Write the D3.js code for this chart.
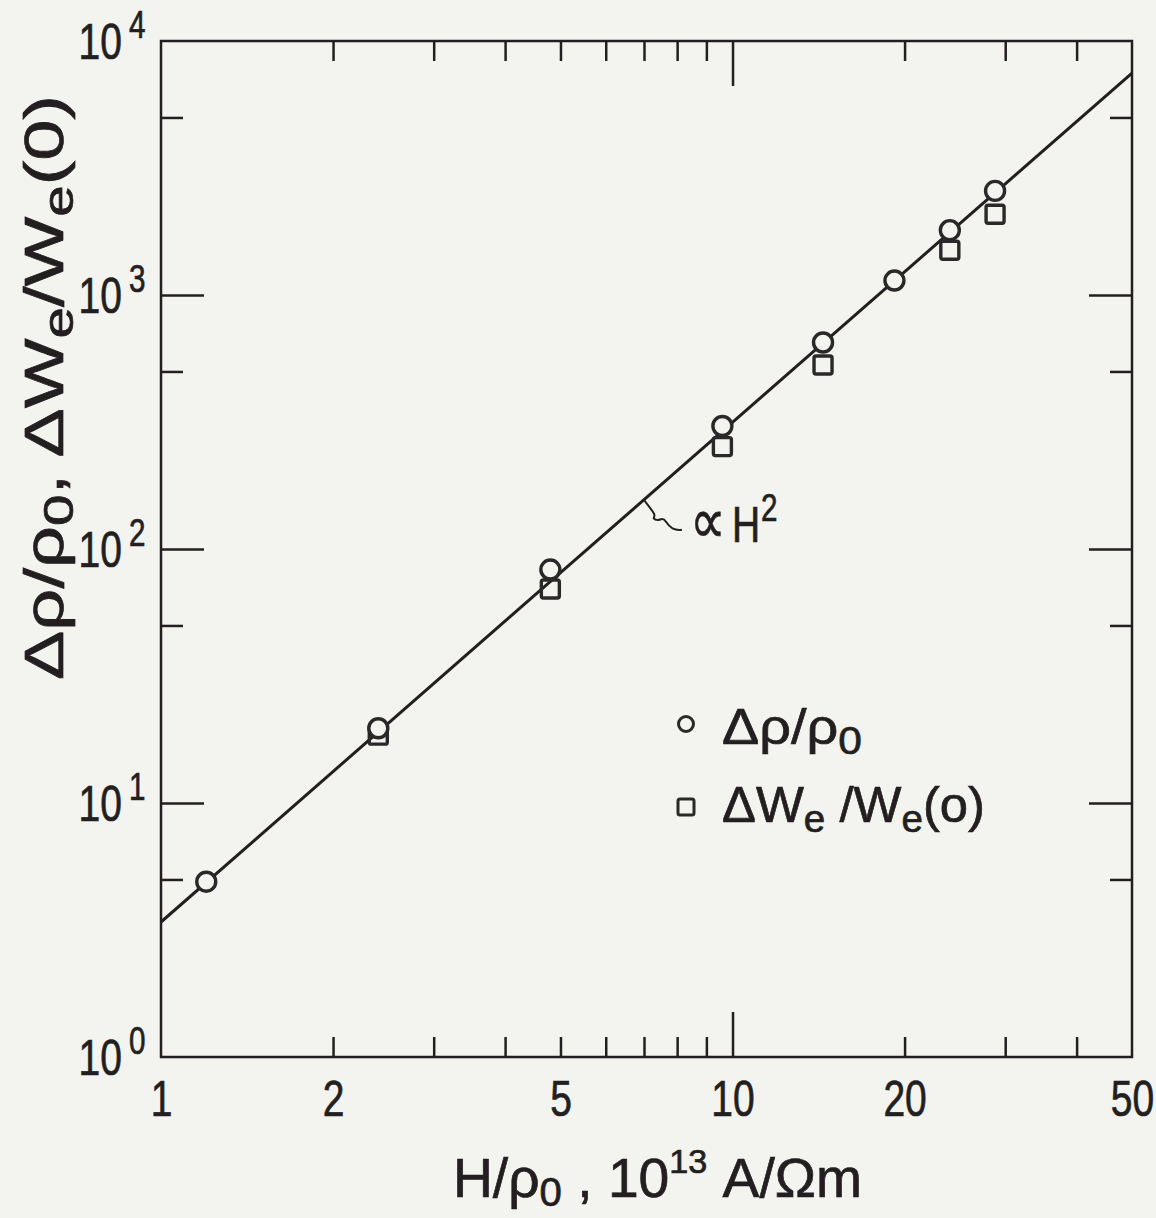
<!DOCTYPE html>
<html><head><meta charset="utf-8">
<script src="https://cdn.jsdelivr.net/npm/d3@7"></script>
<style>
body{margin:0;background:#f3f3f0;}
svg{display:block;}
text{font-family:"Liberation Sans","DejaVu Sans",sans-serif;fill:#231f20;stroke:#231f20;stroke-width:0.7px;}
</style></head><body>
<svg id="c" width="1156" height="1218"></svg>
<script>
// ---- data ----
const fieldH   = [1.2, 2.4, 4.8, 9.6, 14.4, 19.2, 24, 28.8];
const rhoRatio = [4.9, 19.7, 83, 305, 650, 1140, 1800, 2570];
const fieldW   = [2.4, 4.8, 9.6, 14.4, 24, 28.8];
const wRatio   = [18.5, 69.6, 253, 530, 1500, 2080];
const fitLineX = [1, 50];
const fitLineY = [3.4, 7480];
const xTickLabels = [1, 2, 5, 10, 20, 50];
const xMinorTicks = [2, 3, 4, 5, 6, 7, 8, 9, 20, 30, 40];
const xMajorTicks = [10];
const yLabelExp   = [0, 1, 2, 3, 4];
const yMajorTicks = [10, 100, 1000];
const yMinorTicks = [5, 50, 500, 5000];
const annotX = 7;

const ink = "#231f20";
const SX = 0.78; // horizontal condensing for the narrow typeface
const svg = d3.select("#c");
svg.append("rect").attr("width",1156).attr("height",1218).attr("fill","#f3f3f0");

const x = d3.scaleLog().domain([1,50]).range([161,1132]);
const y = d3.scaleLog().domain([1,1e4]).range([1057,41]);

function styleAxis(g){
  g.select(".domain").remove();
  g.selectAll(".tick line").attr("stroke",ink).attr("stroke-width",2.5);
  g.selectAll(".tick text").attr("fill",ink);
}
function addAxis(axis, tx, ty){
  const g = svg.append("g").attr("transform",`translate(${tx},${ty})`).call(axis);
  styleAxis(g);
  return g;
}
function ctext(parent, px, py, size, anchor){
  return parent.append("g").attr("transform",`translate(${px},${py}) scale(${SX},1)`)
    .append("text").attr("font-size",size).attr("text-anchor",anchor||"start");
}
// bottom ticks
addAxis(d3.axisBottom(x).tickValues(xMinorTicks).tickSize(-20).tickFormat(""),0,1057);
addAxis(d3.axisBottom(x).tickValues(xMajorTicks).tickSize(-45).tickFormat(""),0,1057);
// top ticks
addAxis(d3.axisTop(x).tickValues(xMinorTicks).tickSize(-20).tickFormat(""),0,41);
addAxis(d3.axisTop(x).tickValues(xMajorTicks).tickSize(-45).tickFormat(""),0,41);
// left / right ticks
addAxis(d3.axisLeft(y).tickValues(yMajorTicks).tickSize(-43).tickFormat(""),161,0);
addAxis(d3.axisLeft(y).tickValues(yMinorTicks).tickSize(-22).tickFormat(""),161,0);
addAxis(d3.axisRight(y).tickValues(yMajorTicks).tickSize(-43).tickFormat(""),1132,0);
addAxis(d3.axisRight(y).tickValues(yMinorTicks).tickSize(-22).tickFormat(""),1132,0);
// x labels
const xl = addAxis(d3.axisBottom(x).tickValues(xTickLabels).tickSize(0).tickPadding(24).tickFormat(d3.format("d")),0,1057);
xl.attr("font-family",null).attr("font-size",null);
xl.selectAll(".tick text").attr("font-size",50).attr("transform",`scale(${SX},1)`);

// y labels 10^n
const yl = svg.append("g");
yLabelExp.forEach(e=>{
  const py = y(Math.pow(10,e));
  ctext(yl,122,py+18,50,"end").text("10");
  ctext(yl,129,py-3,38,"start").text(String(e));
});

// frame
svg.append("rect").attr("x",x(1)).attr("y",y(1e4)).attr("width",x(50)-x(1)).attr("height",y(1)-y(1e4))
  .attr("fill","none").attr("stroke",ink).attr("stroke-width",2.5);

// fit line
const linePts = fitLineX.map((v,i)=>[v,fitLineY[i]]);
svg.append("path").attr("d",d3.line().x(d=>x(d[0])).y(d=>y(d[1]))(linePts))
  .attr("fill","none").attr("stroke",ink).attr("stroke-width",3);

// squares
svg.append("g").selectAll("rect").data(fieldW.map((v,i)=>[v,wRatio[i]])).join("rect")
  .attr("x",d=>x(d[0])-9).attr("y",d=>y(d[1])-9).attr("width",18).attr("height",18).attr("rx",2)
  .attr("fill","none").attr("stroke","#2b2829").attr("stroke-width",3.4);
// circles
svg.append("g").selectAll("circle").data(fieldH.map((v,i)=>[v,rhoRatio[i]])).join("circle")
  .attr("cx",d=>x(d[0])).attr("cy",d=>y(d[1])).attr("r",9.5)
  .attr("fill","#f3f3f0").attr("stroke","#2b2829").attr("stroke-width",3.4);

// annotation
const lineAt = v => Math.pow(10, Math.log10(fitLineY[0]) + Math.log10(v/fitLineX[0]) *
   (Math.log10(fitLineY[1]/fitLineY[0])/Math.log10(fitLineX[1]/fitLineX[0])));
const ax = x(annotX), ay = y(lineAt(annotX));
svg.append("path").attr("d",`M${ax},${ay} c4,6 8,10 10,14 c2,4 -3,4 2,6 c4,2 6,-4 10,2 c4,6 8,9 16,8`)
  .attr("fill","none").attr("stroke",ink).attr("stroke-width",2);
ctext(svg,ax+46,ay+43,64,"start").text("∝");
ctext(svg,ax+88,ay+42,50,"start").text("H");
ctext(svg,ax+117,ay+21,38,"start").text("2");

// legend
const lg = svg.append("g");
lg.append("circle").attr("cx",686).attr("cy",724).attr("r",7.5).attr("fill","none").attr("stroke","#2b2829").attr("stroke-width",3);
lg.append("rect").attr("x",678).attr("y",799).attr("width",16).attr("height",16).attr("rx",2).attr("fill","none").attr("stroke","#2b2829").attr("stroke-width",3);
const t1 = lg.append("text").attr("x",722).attr("y",744).attr("font-size",50)
  .attr("textLength",140).attr("lengthAdjust","spacingAndGlyphs");
t1.append("tspan").text("Δρ/ρ");
t1.append("tspan").attr("dy",10).attr("font-size",38).text("0");
const t2 = lg.append("text").attr("x",722).attr("y",822).attr("font-size",50)
  .attr("textLength",263).attr("lengthAdjust","spacingAndGlyphs");
t2.append("tspan").text("ΔW");
t2.append("tspan").attr("dy",10).attr("font-size",38).text("e");
t2.append("tspan").attr("dy",-10).text(" /W");
t2.append("tspan").attr("dy",10).attr("font-size",38).text("e");
t2.append("tspan").attr("dy",-10).text("(o)");

// x title
const xt = svg.append("text").attr("x",453).attr("y",1197).attr("font-size",55)
  .attr("textLength",409).attr("lengthAdjust","spacingAndGlyphs");
xt.append("tspan").text("H/ρ");
xt.append("tspan").attr("dy",9).attr("font-size",40).text("0");
xt.append("tspan").attr("dy",-9).text(" , 10");
xt.append("tspan").attr("dy",-24).attr("font-size",34).text("13");
xt.append("tspan").attr("dy",24).text(" A/Ωm");

// y title
const yt = svg.append("text").attr("transform","translate(63,680) rotate(-90)").attr("font-size",55)
  .attr("textLength",585).attr("lengthAdjust","spacingAndGlyphs");
yt.append("tspan").text("Δρ/ρ");
yt.append("tspan").attr("dy",10).attr("font-size",42).text("0");
yt.append("tspan").attr("dy",-10).text(", ΔW");
yt.append("tspan").attr("dy",10).attr("font-size",42).text("e");
yt.append("tspan").attr("dy",-10).text("/W");
yt.append("tspan").attr("dy",10).attr("font-size",42).text("e");
yt.append("tspan").attr("dy",-10).text("(0)");
</script>
</body></html>
